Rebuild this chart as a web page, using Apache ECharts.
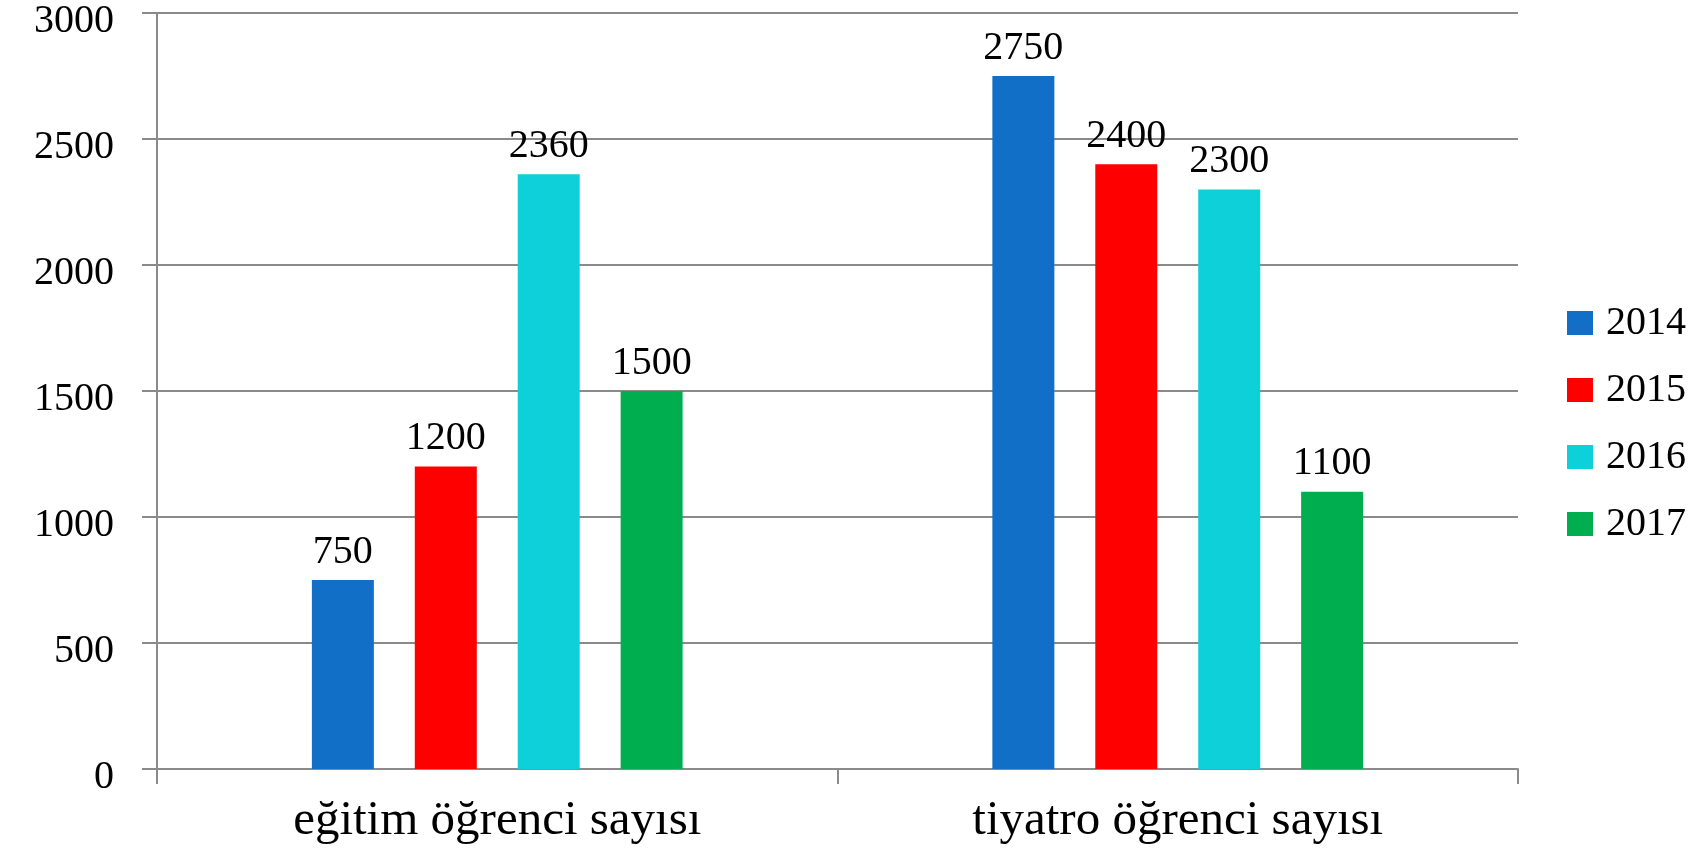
<!DOCTYPE html>
<html>
<head>
<meta charset="utf-8">
<style>
  html, body { margin: 0; padding: 0; background: #ffffff; }
  #chart { width: 1700px; height: 853px; }
</style>
<script src="https://cdn.jsdelivr.net/npm/echarts@6/dist/echarts.min.js"></script>
</head>
<body>
<div id="chart"></div>
<script>
// Student counts per year for two programmes
const categories = ['eğitim öğrenci sayısı', 'tiyatro öğrenci sayısı'];
const years = ['2014', '2015', '2016', '2017'];
const values2014 = [750, 2750];
const values2015 = [1200, 2400];
const values2016 = [2360, 2300];
const values2017 = [1500, 1100];
const yTicks = { min: 0, max: 3000, interval: 500 };

const seriesValues = [values2014, values2015, values2016, values2017];
const colors = ['#116FC7', '#FF0000', '#0DD0D9', '#00AE50'];
const FONT = '"Liberation Serif", "DejaVu Serif", serif';
const NUM_SIZE = 40;

const chart = echarts.init(document.getElementById('chart'), null, { renderer: 'canvas' });

chart.setOption({
  animation: false,
  backgroundColor: '#ffffff',
  color: colors,
  grid: { left: 157, right: 182, top: 13, bottom: 84, containLabel: false, outerBoundsMode: 'none' },
  legend: {
    orient: 'vertical',
    left: 1567,
    top: 303,
    padding: 0,
    itemWidth: 26,
    itemHeight: 24,
    itemGap: 27,
    icon: 'rect',
    textStyle: { fontFamily: FONT, fontSize: NUM_SIZE, color: '#000000', padding: [0, 0, 0, 8] },
    data: years
  },
  xAxis: {
    type: 'category',
    data: categories,
    axisLine: { show: true, lineStyle: { color: '#8a8a8a', width: 2 } },
    axisTick: { show: true, length: 15, lineStyle: { color: '#8a8a8a', width: 2 } },
    axisLabel: { fontFamily: FONT, fontSize: 49, color: '#000000', margin: 28 },
    splitLine: { show: false }
  },
  yAxis: {
    type: 'value',
    min: yTicks.min,
    max: yTicks.max,
    interval: yTicks.interval,
    axisLine: { show: true, lineStyle: { color: '#8a8a8a', width: 2 } },
    axisTick: { show: true, length: 15, lineStyle: { color: '#8a8a8a', width: 2 } },
    axisLabel: {
      color: '#000000',
      margin: 43,
      // tick numbers sit slightly below their grid line
      formatter: v => '{n|' + v + '}',
      rich: {
        n: {
          fontFamily: FONT,
          fontSize: NUM_SIZE,
          color: '#000000',
          lineHeight: 56,
          verticalAlign: 'bottom'
        }
      }
    },
    splitLine: { show: true, lineStyle: { color: '#8a8a8a', width: 2 } }
  },
  series: years.map((y, i) => ({
    name: y,
    type: 'bar',
    data: seriesValues[i],
    barWidth: 62,
    barGap: '66%',
    itemStyle: { color: colors[i] },
    label: {
      show: true,
      position: 'top',
      distance: 8,
      fontFamily: FONT,
      fontSize: NUM_SIZE,
      color: '#000000'
    }
  }))
});
</script>
</body>
</html>
